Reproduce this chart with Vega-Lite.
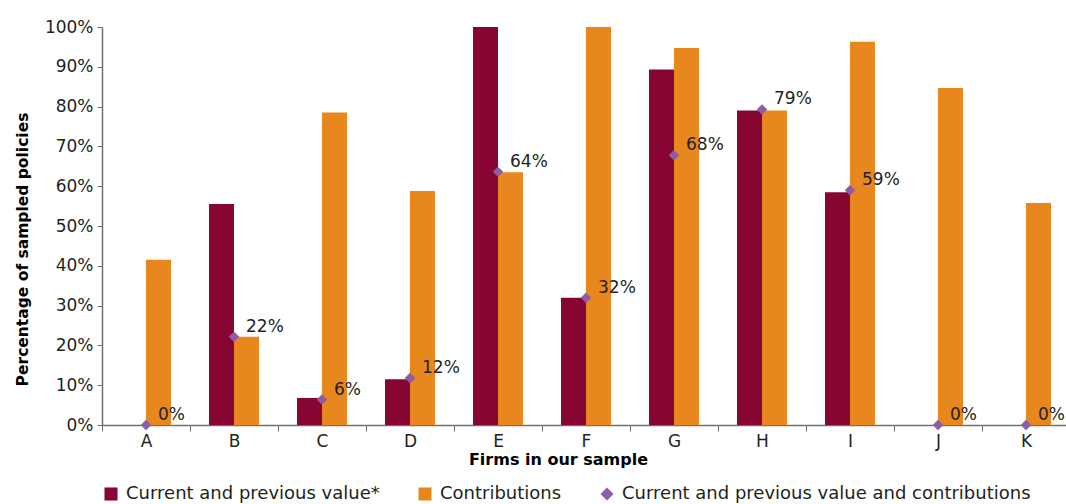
{
  "$schema": "https://vega.github.io/schema/vega-lite/v6.json",
  "width": 968,
  "height": 398,
  "autosize": "none",
  "padding": {"left": 102, "top": 27, "right": 0, "bottom": 79},
  "config": {
    "view": {"stroke": null},
    "font": "DejaVu Sans",
    "axis": {"labelFont": "DejaVu Sans", "titleFont": "DejaVu Sans"},
    "legend": {"labelFont": "DejaVu Sans"}
  },
  "datasets": {
    "bars": [
      {"firm": "A", "series": "Current and previous value*", "value": 0},
      {"firm": "A", "series": "Contributions", "value": 0.415},
      {"firm": "B", "series": "Current and previous value*", "value": 0.555},
      {"firm": "B", "series": "Contributions", "value": 0.222},
      {"firm": "C", "series": "Current and previous value*", "value": 0.068},
      {"firm": "C", "series": "Contributions", "value": 0.785},
      {"firm": "D", "series": "Current and previous value*", "value": 0.115},
      {"firm": "D", "series": "Contributions", "value": 0.588},
      {"firm": "E", "series": "Current and previous value*", "value": 1.0},
      {"firm": "E", "series": "Contributions", "value": 0.635},
      {"firm": "F", "series": "Current and previous value*", "value": 0.32},
      {"firm": "F", "series": "Contributions", "value": 1.0},
      {"firm": "G", "series": "Current and previous value*", "value": 0.893},
      {"firm": "G", "series": "Contributions", "value": 0.947},
      {"firm": "H", "series": "Current and previous value*", "value": 0.79},
      {"firm": "H", "series": "Contributions", "value": 0.79},
      {"firm": "I", "series": "Current and previous value*", "value": 0.585},
      {"firm": "I", "series": "Contributions", "value": 0.963},
      {"firm": "J", "series": "Current and previous value*", "value": 0},
      {"firm": "J", "series": "Contributions", "value": 0.847},
      {"firm": "K", "series": "Current and previous value*", "value": 0},
      {"firm": "K", "series": "Contributions", "value": 0.558}
    ],
    "points": [
      {"firm": "A", "series": "Current and previous value and contributions", "value": 0},
      {"firm": "B", "series": "Current and previous value and contributions", "value": 0.222},
      {"firm": "C", "series": "Current and previous value and contributions", "value": 0.064},
      {"firm": "D", "series": "Current and previous value and contributions", "value": 0.118},
      {"firm": "E", "series": "Current and previous value and contributions", "value": 0.636},
      {"firm": "F", "series": "Current and previous value and contributions", "value": 0.32},
      {"firm": "G", "series": "Current and previous value and contributions", "value": 0.678},
      {"firm": "H", "series": "Current and previous value and contributions", "value": 0.793},
      {"firm": "I", "series": "Current and previous value and contributions", "value": 0.59},
      {"firm": "J", "series": "Current and previous value and contributions", "value": 0},
      {"firm": "K", "series": "Current and previous value and contributions", "value": 0}
    ]
  },
  "encoding": {
    "x": {
      "field": "firm", "type": "nominal",
      "scale": {"paddingInner": 0, "paddingOuter": 0},
      "axis": {
        "title": "Firms in our sample",
        "titleFontSize": 16, "titleFontWeight": "bold", "titleColor": "#000000",
        "titlePadding": 2, "titleX": 456, "titleAlign": "center",
        "labelAngle": 0, "labelFontSize": 17, "labelColor": "#231f20", "labelPadding": 2,
        "tickBand": "extent", "tickSize": 6, "tickColor": "#707070",
        "domainColor": "#707070", "domainWidth": 1.5
      }
    },
    "y": {
      "field": "value", "type": "quantitative",
      "scale": {"domain": [0, 1], "nice": false},
      "axis": {
        "title": "Percentage of sampled policies",
        "titleFontSize": 15.5, "titleFontWeight": "bold", "titleColor": "#000000",
        "titleY": 222,
        "format": ".0%", "values": [0, 0.1, 0.2, 0.3, 0.4, 0.5, 0.6, 0.7, 0.8, 0.9, 1.0],
        "labelOverlap": false,
        "labelFontSize": 17, "labelColor": "#231f20", "labelPadding": 4,
        "tickSize": 5, "tickColor": "#707070", "grid": false,
        "domainColor": "#707070", "domainWidth": 1.5, "titlePadding": 14
      }
    }
  },
  "layer": [
    {
      "data": {"name": "bars"},
      "mark": {"type": "bar"},
      "encoding": {
        "xOffset": {
          "field": "series",
          "scale": {"domain": ["Current and previous value*", "Contributions"], "paddingInner": 0, "paddingOuter": 0.76}
        },
        "color": {
          "field": "series", "type": "nominal",
          "scale": {
            "domain": ["Current and previous value*", "Contributions", "Current and previous value and contributions"],
            "range": ["#870533", "#e8871e", "#8e5ba6"]
          },
          "legend": {
            "title": null, "orient": "bottom", "direction": "horizontal",
            "labelFontSize": 18, "labelColor": "#231f20", "symbolSize": 170, "labelLimit": 600,
            "columnPadding": 36, "labelOffset": 6, "offset": 18
          }
        }
      }
    },
    {
      "data": {"name": "points"},
      "mark": {"type": "point", "filled": true, "size": 110, "opacity": 1},
      "encoding": {
        "color": {"field": "series", "type": "nominal"},
        "shape": {
          "field": "series", "type": "nominal",
          "scale": {
            "domain": ["Current and previous value*", "Contributions", "Current and previous value and contributions"],
            "range": ["square", "square", "diamond"]
          },
          "legend": {
            "title": null, "orient": "bottom", "direction": "horizontal",
            "labelFontSize": 18, "labelColor": "#231f20", "symbolSize": 170, "labelLimit": 600,
            "columnPadding": 36, "labelOffset": 6, "offset": 18
          }
        }
      }
    },
    {
      "data": {"name": "points"},
      "mark": {"type": "text", "align": "left", "baseline": "middle", "dx": 12, "dy": -10, "fontSize": 17, "color": "#231f20"},
      "encoding": {
        "text": {"field": "value", "type": "quantitative", "format": ".0%"}
      }
    }
  ]
}
